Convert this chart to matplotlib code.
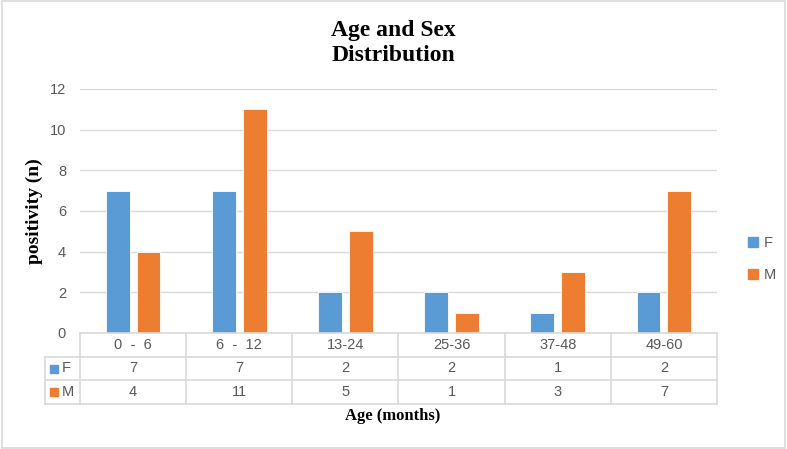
import matplotlib.pyplot as plt
from matplotlib.patches import Rectangle

# data
age_groups = ['0  -  6', '6  -  12', '13-24', '25-36', '37-48', '49-60']
female = [7, 7, 2, 2, 1, 2]
male = [4, 11, 5, 1, 3, 7]
series_names = ['F', 'M']
colors = ['#5B9BD5', '#ED7D31']
y_ticks = [0, 2, 4, 6, 8, 10, 12]

W, H = 787, 449
fig = plt.figure(figsize=(W / 100, H / 100), dpi=100)

def fig_box(x0, y0, x1, y1):
    # pixel box (top-left origin) -> figure fraction rect
    return [x0 / W, 1 - y1 / H, (x1 - x0) / W, (y1 - y0) / H]

tick_font = dict(family='Liberation Sans', size=10.5, color='#595959')
serif = 'Liberation Serif'

# outer frame
fig.patches.append(Rectangle((0.002, 0.003), 0.995, 0.994, transform=fig.transFigure,
                             fill=False, edgecolor='#D9D9D9', linewidth=1.2))

# --- bars ---
ax = fig.add_axes(fig_box(80, 89, 717, 333))
x = list(range(len(age_groups)))
bw, off = 0.225, 0.145
ax.bar([i - off for i in x], female, bw, color=colors[0], edgecolor='white', linewidth=0.6, zorder=3)
ax.bar([i + off for i in x], male, bw, color=colors[1], edgecolor='white', linewidth=0.6, zorder=3)
ax.set_xlim(-0.5, len(age_groups) - 0.5)
ax.set_ylim(0, 12)
ax.set_yticks(y_ticks)
ax.set_yticklabels([str(t) for t in y_ticks], **tick_font)
ax.set_xticks([])
ax.tick_params(axis='y', length=0, pad=10)
ax.grid(axis='y', color='#D9D9D9', linewidth=1.0, zorder=0)
for s in ax.spines.values():
    s.set_visible(False)
ax.set_ylabel('positivity (n)', family=serif, fontweight='bold', fontsize=14, labelpad=5)

# --- data table under the axis ---
lab_w = 35 / (637 / len(age_groups))
tax = fig.add_axes(fig_box(45, 333, 717, 404))
tax.set_xlim(-0.5 - lab_w, len(age_groups) - 0.5)
tax.set_ylim(3, 0)
tax.axis('off')
lc = '#D9D9D9'
tax.plot([-0.5, len(age_groups) - 0.5], [0, 0], color=lc, lw=1.2, clip_on=False)
for r in [1, 2, 3]:
    tax.plot([-0.5 - lab_w, len(age_groups) - 0.5], [r, r], color=lc, lw=1.2, clip_on=False)
tax.plot([-0.5 - lab_w] * 2, [1, 3], color=lc, lw=1.2, clip_on=False)
for c in range(len(age_groups) + 1):
    tax.plot([c - 0.5] * 2, [0, 3], color=lc, lw=1.2, clip_on=False)
for i, g in enumerate(age_groups):
    tax.text(i, 0.5, g, ha='center', va='center', **tick_font)
    tax.text(i, 1.5, str(female[i]), ha='center', va='center', **tick_font)
    tax.text(i, 2.5, str(male[i]), ha='center', va='center', **tick_font)
for r, (name, col) in enumerate(zip(series_names, colors)):
    tax.scatter([-0.5 - lab_w * 0.73], [1.5 + r], marker='s', s=28, color=col, clip_on=False)
    tax.text(-0.5 - lab_w * 0.52, 1.5 + r, name, ha='left', va='center', **tick_font)

# --- legend ---
handles = [Rectangle((0, 0), 1, 1, color=c) for c in colors]
fig.legend(handles, series_names, loc='center left', bbox_to_anchor=(735 / W, 1 - 259 / H),
           frameon=False, prop=dict(family='Liberation Sans', size=10.5),
           handlelength=0.7, handleheight=0.7, handletextpad=0.4, labelspacing=1.2,
           labelcolor='#595959')

fig.text(393 / W, 1 - 43 / H, 'Age and Sex\nDistribution', ha='center', va='center',
         family=serif, fontweight='bold', fontsize=17, linespacing=1.25)
fig.text(393 / W, 1 - 416 / H, 'Age (months)', ha='center', va='center',
         family=serif, fontweight='bold', fontsize=12)

fig.savefig('out.png', dpi=100)
